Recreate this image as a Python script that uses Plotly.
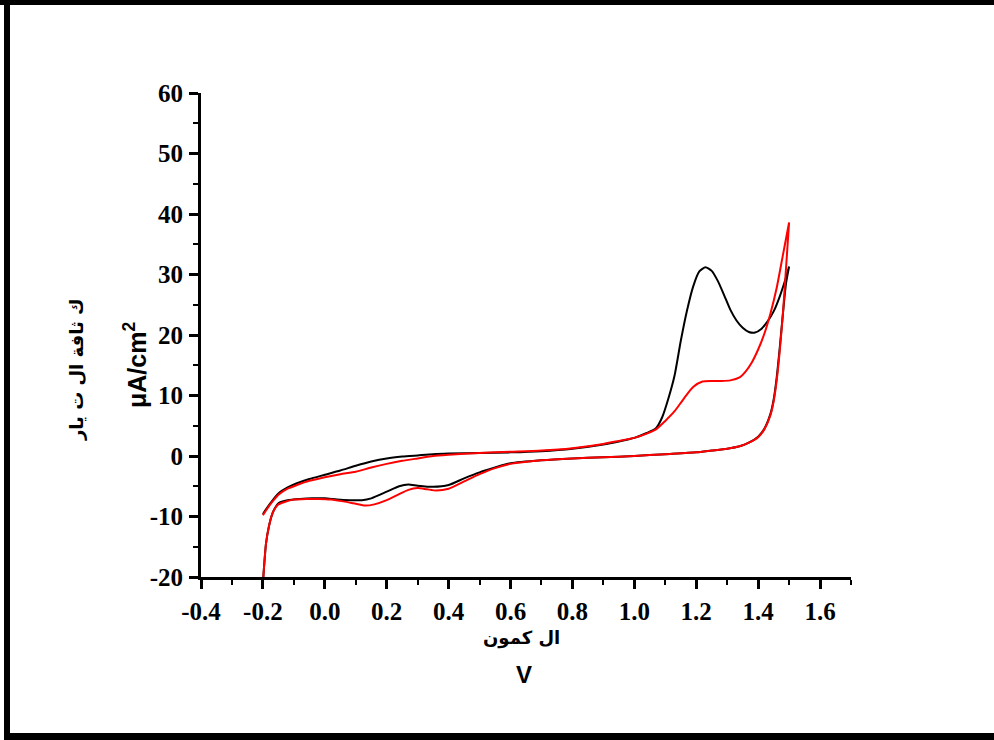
import plotly.graph_objects as go

# Cyclic voltammograms: potential (V) and current density (uA/cm2)
# Black curve: anodic sweep (-0.2 -> 1.5 V)
black_fwd_v = [-0.20, -0.19, -0.17, -0.15, -0.12, -0.09, -0.05, 0.00, 0.05, 0.10,
               0.15, 0.20, 0.25, 0.30, 0.35, 0.40, 0.50, 0.60, 0.70, 0.80,
               0.90, 0.95, 1.00, 1.04, 1.07, 1.09, 1.11, 1.13, 1.15, 1.17,
               1.19, 1.21, 1.23, 1.25, 1.27, 1.29, 1.31, 1.33, 1.35, 1.37,
               1.39, 1.41, 1.43, 1.45, 1.47, 1.49, 1.50]
black_fwd_i = [-9.6, -8.8, -7.4, -6.2, -5.2, -4.5, -3.8, -3.1, -2.4, -1.6,
               -0.9, -0.4, -0.1, 0.1, 0.3, 0.4, 0.5, 0.6, 0.8, 1.2,
               1.9, 2.4, 3.0, 3.8, 4.6, 6.4, 9.5, 13.3, 19.0, 24.0,
               28.0, 30.5, 31.2, 30.6, 28.9, 26.6, 24.2, 22.4, 21.2, 20.5,
               20.4, 21.0, 22.2, 23.9, 26.4, 29.5, 31.3]
# Black curve: cathodic sweep (1.5 -> -0.2 V)
black_rev_v = [1.50, 1.49, 1.48, 1.47, 1.46, 1.45, 1.44, 1.42, 1.40, 1.37,
               1.34, 1.30, 1.25, 1.20, 1.10, 1.00, 0.90, 0.80, 0.70, 0.60,
               0.55, 0.50, 0.45, 0.40, 0.35, 0.30, 0.27, 0.24, 0.20, 0.15,
               0.12, 0.08, 0.04, 0.00, -0.04, -0.08, -0.12, -0.15, -0.16, -0.17,
               -0.18, -0.19, -0.20]
black_rev_i = [31.3, 28.5, 23.5, 18.0, 13.0, 9.3, 7.0, 4.5, 3.2, 2.2,
               1.6, 1.2, 0.9, 0.6, 0.3, 0.0, -0.2, -0.4, -0.7, -1.2,
               -1.9, -2.7, -3.7, -4.8, -5.1, -4.9, -4.7, -5.0, -5.9, -7.0,
               -7.3, -7.3, -7.2, -7.0, -7.0, -7.1, -7.3, -7.8, -8.5, -9.6,
               -11.5, -14.5, -21.0]

# Red curve: anodic sweep
red_fwd_v = [-0.20, -0.19, -0.17, -0.15, -0.12, -0.09, -0.05, 0.00, 0.05, 0.10,
             0.15, 0.20, 0.25, 0.30, 0.35, 0.40, 0.50, 0.60, 0.70, 0.80,
             0.90, 0.95, 1.00, 1.04, 1.07, 1.10, 1.13, 1.16, 1.19, 1.22,
             1.25, 1.28, 1.31, 1.34, 1.36, 1.38, 1.40, 1.42, 1.44, 1.46,
             1.48, 1.50]
red_fwd_i = [-9.8, -9.0, -7.6, -6.4, -5.4, -4.8, -4.1, -3.5, -3.0, -2.6,
             -1.9, -1.3, -0.8, -0.4, 0.0, 0.2, 0.5, 0.7, 0.9, 1.3,
             2.0, 2.5, 3.0, 3.7, 4.4, 5.8, 7.4, 9.5, 11.4, 12.3,
             12.4, 12.4, 12.5, 13.0, 14.0, 15.5, 17.6, 20.2, 23.6, 27.8,
             33.2, 38.6]
# Red curve: cathodic sweep
red_rev_v = [1.50, 1.49, 1.48, 1.47, 1.46, 1.45, 1.44, 1.42, 1.40, 1.37,
             1.34, 1.30, 1.25, 1.20, 1.10, 1.00, 0.90, 0.80, 0.70, 0.60,
             0.55, 0.50, 0.45, 0.40, 0.36, 0.33, 0.30, 0.27, 0.24, 0.20,
             0.16, 0.13, 0.10, 0.06, 0.02, -0.02, -0.06, -0.10, -0.13, -0.15,
             -0.16, -0.17, -0.18, -0.19, -0.20]
red_rev_i = [38.6, 31.0, 23.5, 17.5, 12.5, 9.0, 6.8, 4.4, 3.1, 2.2,
             1.6, 1.2, 0.9, 0.6, 0.3, 0.0, -0.2, -0.4, -0.7, -1.3,
             -2.0, -3.0, -4.2, -5.4, -5.7, -5.5, -5.3, -5.6, -6.3, -7.3,
             -8.0, -8.2, -7.9, -7.5, -7.2, -7.1, -7.1, -7.2, -7.6, -8.0,
             -8.6, -9.6, -11.5, -14.5, -21.0]

x_ticks = [-0.4, -0.2, 0.0, 0.2, 0.4, 0.6, 0.8, 1.0, 1.2, 1.4, 1.6]
y_ticks = [-20, -10, 0, 10, 20, 30, 40, 50, 60]

W, H = 994, 740
PL, PR, PT, PB = 201, 851, 93, 577  # plot area in pixels


def px(x):
    return (x - PL) / (PR - PL)


def py(y):
    return (PB - y) / (PB - PT)


fig = go.Figure()
fig.add_trace(go.Scatter(
    x=black_fwd_v + black_rev_v, y=black_fwd_i + black_rev_i,
    mode="lines", line=dict(color="black", width=2, shape="spline", smoothing=0.6),
    showlegend=False))
fig.add_trace(go.Scatter(
    x=red_fwd_v + red_rev_v, y=red_fwd_i + red_rev_i,
    mode="lines", line=dict(color="#ff0000", width=2, shape="spline", smoothing=0.6),
    showlegend=False))

tick_font = dict(family="Liberation Serif, Times New Roman, serif", size=25,
                 color="black", weight="bold")

fig.update_xaxes(
    range=[-0.4, 1.7], tickmode="array", tickvals=x_ticks,
    ticktext=[f"{v:.1f}" for v in x_ticks],
    showline=True, linecolor="black", linewidth=3, showgrid=False, zeroline=False,
    ticks="outside", ticklen=9, tickwidth=3, tickcolor="black",
    minor=dict(ticks="outside", ticklen=5, tickwidth=2, tickcolor="black",
               tick0=-0.4, dtick=0.1),
    tickfont=tick_font, ticklabelstandoff=1,
)
fig.update_yaxes(
    range=[-20, 60], tickmode="array", tickvals=y_ticks,
    ticktext=[str(v) for v in y_ticks],
    showline=True, linecolor="black", linewidth=3, showgrid=False, zeroline=False,
    ticks="outside", ticklen=9, tickwidth=3, tickcolor="black",
    minor=dict(ticks="outside", ticklen=5, tickwidth=2, tickcolor="black",
               tick0=-20, dtick=5),
    tickfont=tick_font, ticklabelstandoff=1,
)

arabic_font = dict(family="DejaVu Sans", size=18, color="black", weight="bold")
sans_font = dict(family="Liberation Sans, Arial, sans-serif", size=25, color="black",
                 weight="bold")

annotations = [
    dict(x=px(76), y=py(370), text="ك ثافة ال ت يار", textangle=-90, font=arabic_font),
    dict(x=px(135), y=py(365), text="μA/cm<sup>2</sup>", textangle=-90, font=sans_font),
    dict(x=px(521), y=py(638), text="ال كمون", font=arabic_font),
    dict(x=px(524), y=py(674), text="V", font=dict(sans_font, size=24)),
]
for a in annotations:
    a.update(xref="paper", yref="paper", showarrow=False, xanchor="center",
             yanchor="middle")

# Outer frame (left, top, bottom edges)
frame = [
    (4, 0, 10, 737),
    (0, 0, W, 5),
    (4, 733, W, H),
]
shapes = [dict(type="rect", xref="paper", yref="paper",
               x0=px(a), x1=px(c), y0=py(b), y1=py(d),
               fillcolor="black", line=dict(width=0), layer="above")
          for a, b, c, d in frame]

fig.update_layout(
    width=W, height=H,
    margin=dict(l=PL, r=W - PR, t=PT, b=H - PB),
    paper_bgcolor="white", plot_bgcolor="white",
    annotations=annotations, shapes=shapes,
)

fig.write_html("out.html")
